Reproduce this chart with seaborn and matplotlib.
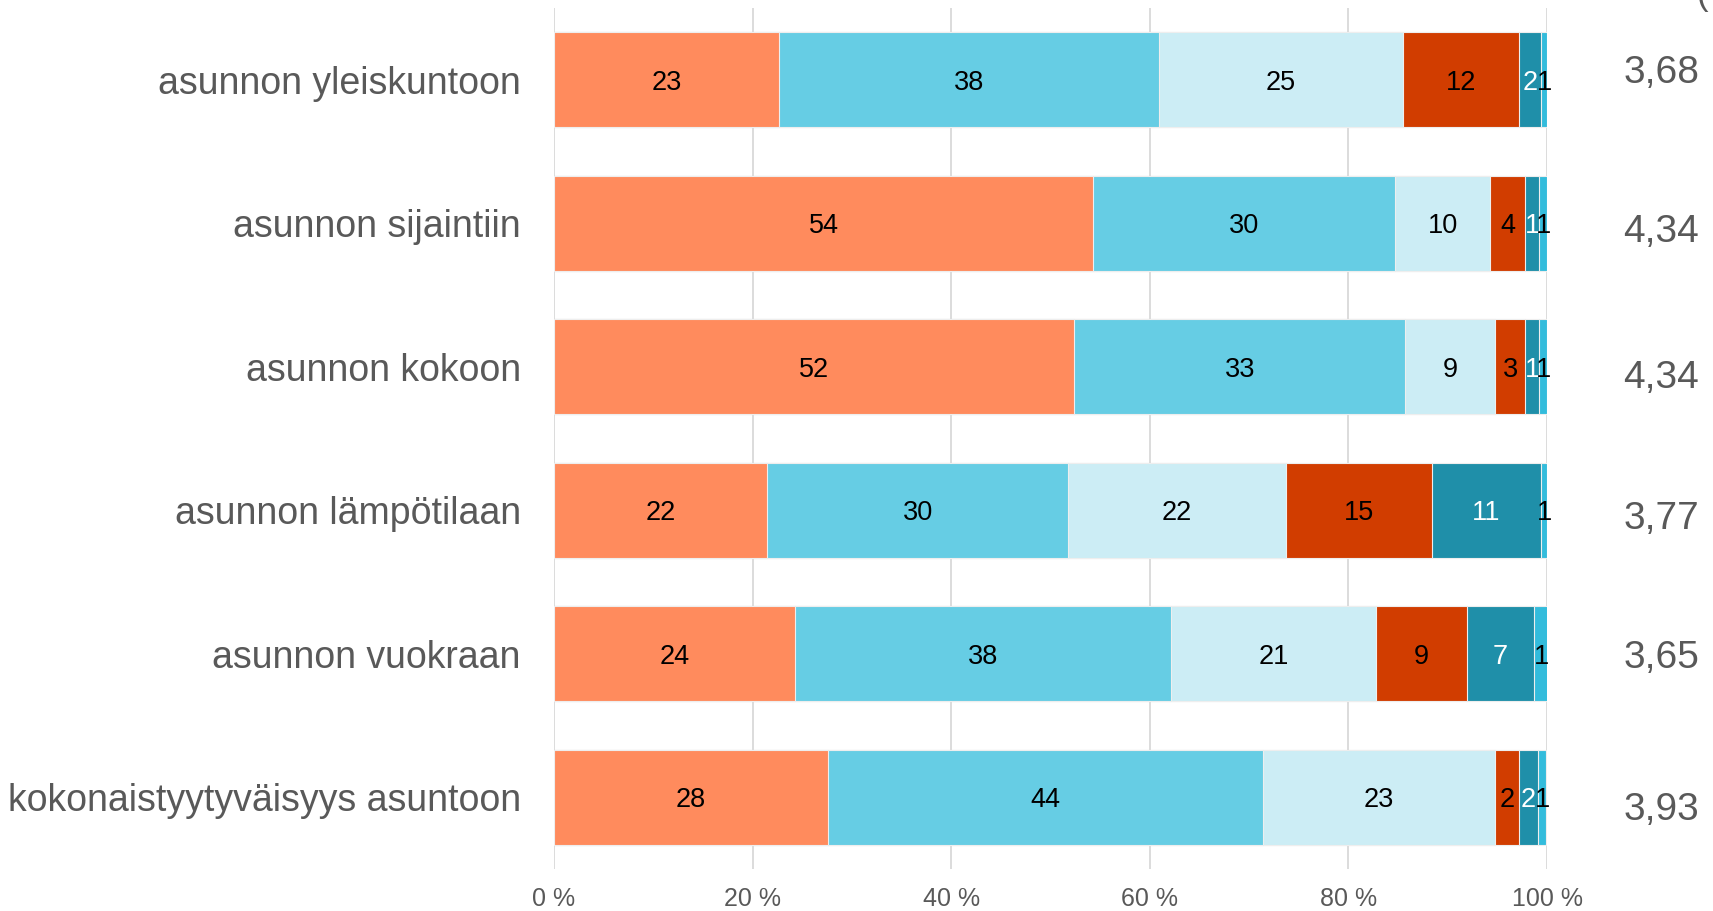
import matplotlib
matplotlib.use("Agg")
import matplotlib.pyplot as plt
import seaborn as sns
import numpy as np
import pandas as pd

# Satisfaction with the dwelling, share of answers (%) per response class
categories = [
    "asunnon yleiskuntoon",
    "asunnon sijaintiin",
    "asunnon kokoon",
    "asunnon lämpötilaan",
    "asunnon vuokraan",
    "kokonaistyytyväisyys asuntoon",
]
very_satisfied = [22.7, 54.3, 52.4, 21.5, 24.3, 27.6]
satisfied = [38.2, 30.4, 33.3, 30.3, 37.8, 43.8]
neutral = [24.6, 9.6, 9.1, 21.9, 20.7, 23.4]
dissatisfied = [11.7, 3.5, 3.0, 14.7, 9.1, 2.4]
very_dissatisfied = [2.2, 1.4, 1.4, 11.0, 6.8, 1.9]
no_answer = [0.6, 0.8, 0.8, 0.6, 1.4, 0.8]
means = ["3,68", "4,34", "4,34", "3,77", "3,65", "3,93"]
x_ticks = [0, 20, 40, 60, 80, 100]
x_tick_labels = ["0 %", "20 %", "40 %", "60 %", "80 %", "100 %"]

series = [very_satisfied, satisfied, neutral, dissatisfied, very_dissatisfied, no_answer]
colors = ["#FF8B5D", "#66CDE4", "#CCEDF5", "#D13D00", "#1F8FA9", "#33BCDC"]
label_colors = ["black", "black", "black", "black", "white", "black"]

sns.set_theme(style="white")
plt.rcParams["font.family"] = ["Liberation Sans", "DejaVu Sans"]

fig = plt.figure(figsize=(17.13, 9.11), dpi=100)
ax = fig.add_axes([0.3234, 0.0461, 0.5797, 0.9451])

vals = np.array(series)
cum = np.cumsum(vals, axis=0)

# Stacked bars: draw cumulative totals from the widest layer inwards
for k in range(len(series) - 1, -1, -1):
    df = pd.DataFrame({"cat": categories, "val": cum[k]})
    sns.barplot(data=df, x="val", y="cat", orient="h", color=colors[k],
                saturation=1, width=0.662, edgecolor="#EEEEEE", linewidth=0.8,
                ax=ax, zorder=3)

# Segment value labels (rounded half up)
for k in range(len(series)):
    for i in range(len(categories)):
        start = cum[k - 1][i] if k > 0 else 0.0
        v = vals[k][i]
        ax.text(start + v / 2, i, f"{int(np.floor(v + 0.5))}",
                ha="center", va="center_baseline", fontsize=19.5,
                color=label_colors[k], zorder=5)

# Mean score column on the right
mean_nudge = [-0.05, 0.06, 0.08, 0.06, 0.03, 0.09]
for i, m in enumerate(means):
    ax.text(1.115, i + mean_nudge[i], m, transform=ax.get_yaxis_transform(),
            ha="center", va="center", fontsize=28, color="#595959")

ax.set_xlim(0, 100)
ax.set_ylim(5.5, -0.5)
ax.set_xticks(x_ticks)
ax.set_xticklabels(x_tick_labels)
ax.set_xlabel("")
ax.set_ylabel("")
ax.grid(axis="x", color="#D9D9D9", linewidth=1.3, zorder=0)
ax.grid(axis="y", visible=False)
ax.set_axisbelow(True)
for s in ax.spines.values():
    s.set_visible(False)
ax.tick_params(axis="y", labelsize=27, labelcolor="#595959", length=0, pad=24)
ax.tick_params(axis="x", labelsize=18, labelcolor="#595959", length=0, pad=13)

fig.text(1703 / 1713, 1 - 5 / 911, "(", ha="center", va="baseline",
         fontsize=25, color="#595959")

fig.savefig("out.png", dpi=100)
